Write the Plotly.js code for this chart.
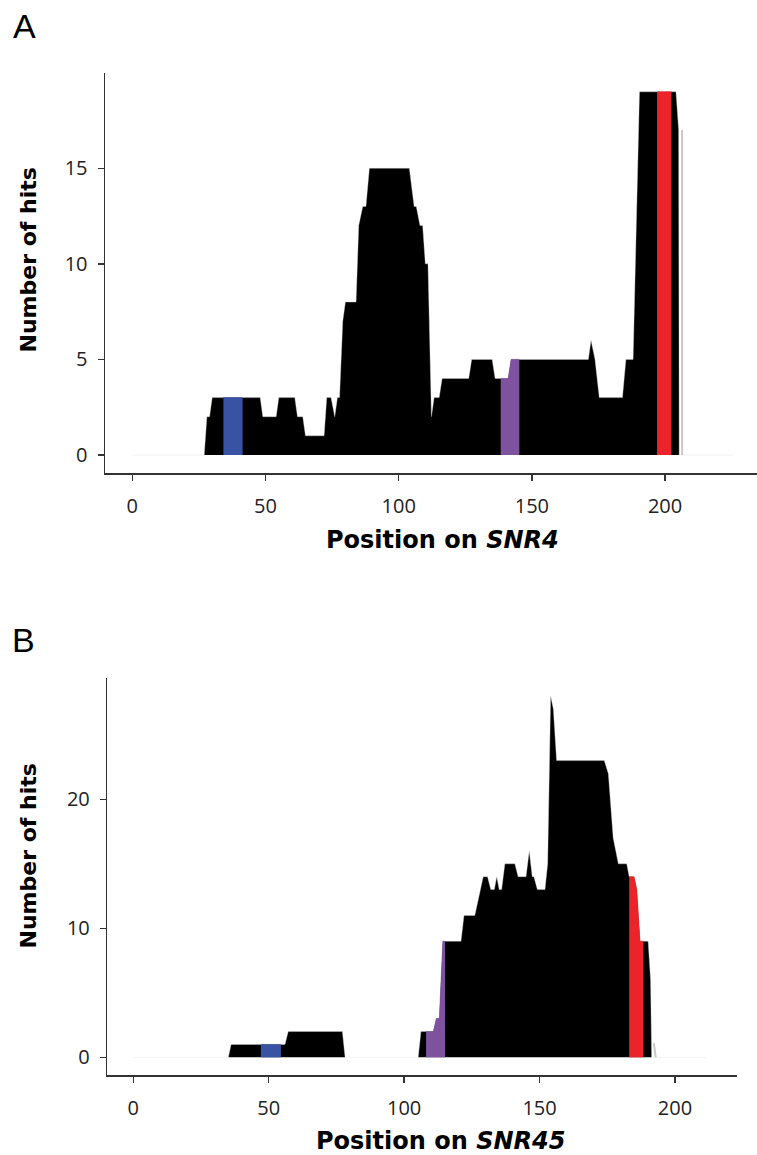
<!DOCTYPE html>
<html>
<head>
<meta charset="utf-8">
<script src="https://cdn.plot.ly/plotly-3.0.1.min.js"></script>
<style>html,body{margin:0;padding:0;background:#fff;}#chart{width:757px;height:1155px;}</style>
</head>
<body>
<div id="chart"></div>
<script>
// ---------- Panel A : SNR4 ----------
const snr4Pos  = [0, 27, 28, 29, 30, 48, 49, 54, 55, 61, 62, 64, 65, 72, 73, 74.6, 76, 77, 77.8, 79, 80, 84, 85, 86.5, 87.7, 89, 104, 105.8, 106.6, 108, 109, 110, 111, 112.3, 113.3, 115.2, 116.3, 126.3, 127.4, 135.1, 136.2, 141.1, 142.2, 171.2, 172.2, 173.7, 175.3, 184, 185.3, 188, 190.4, 204.1, 205.1, 205.3, 225.5];
const snr4Hits = [0, 0, 2, 2, 3, 3, 2, 2, 3, 3, 2, 2, 1, 1, 3, 3, 2, 3, 3, 7, 8, 8, 12, 13, 13, 15, 15, 13, 13, 12, 12, 10, 10, 2, 3, 3, 4, 4, 5, 5, 4, 4, 5, 5, 6, 5, 3, 3, 5, 5, 19, 19, 17, 0, 0];
const snr4BluePos = [34.2, 41.4];
const snr4BlueHits = [3, 3];
const snr4PurplePos = [138.3, 141.1, 142.2, 145.3];
const snr4PurpleHits = [4, 4, 5, 5];
const snr4RedPos = [197.0, 202.4];
const snr4RedHits = [19, 19];
const snr4TracePos = [206.4, 206.4];
const snr4TraceHits = [0, 17];
const snr4XTicks = [0, 50, 100, 150, 200];
const snr4YTicks = [0, 5, 10, 15];

// ---------- Panel B : SNR45 ----------
const snr45Pos  = [0, 35.1, 36.1, 56.0, 57.2, 77.2, 78.2, 105.2, 106.2, 110.8, 111.9, 113.0, 114.3, 121.0, 122.1, 126.1, 129.2, 130.8, 132.0, 133.3, 134.2, 135.1, 136.0, 137.2, 140.9, 142.1, 145.0, 146.2, 147.3, 147.9, 149.2, 152.0, 153.0, 154.1, 155.1, 156.3, 173.9, 175.4, 177.2, 179.1, 182.2, 183.1, 184.9, 185.9, 187.1, 190.1, 191.0, 191.4, 211.8];
const snr45Hits = [0, 0, 1, 1, 2, 2, 0, 0, 2, 2, 3, 3, 9, 9, 11, 11, 14, 14, 13, 13, 14, 13, 13, 15, 15, 14, 14, 16, 14, 14, 13, 13, 15, 28, 27, 23, 23, 22, 17, 15, 15, 14, 14, 13, 9, 9, 6, 0, 0];
const snr45BluePos = [47.1, 54.5];
const snr45BlueHits = [1, 1];
const snr45PurplePos = [108.1, 110.8, 111.9, 113.0, 114.3, 115.1];
const snr45PurpleHits = [2, 2, 3, 3, 9, 9];
const snr45RedPos = [183.1, 184.9, 185.9, 187.1, 188.3];
const snr45RedHits = [14, 14, 13, 9, 9];
const snr45TracePos = [192.2, 192.9];
const snr45TraceHits = [1.1, 0];
const snr45XTicks = [0, 50, 100, 150, 200];
const snr45YTicks = [0, 10, 20];

const BLUE = '#3953a4', PURPLE = '#7f52a0', RED = '#ec2328';

function area(x, y, color, xa, ya, lineColor, lw) {
  return {type: 'scatter', mode: 'lines', x: x, y: y, xaxis: xa, yaxis: ya,
    fill: 'tozeroy', fillcolor: color,
    line: {color: lineColor || color, width: lw === undefined ? 0.5 : lw, shape: 'linear'},
    hoverinfo: 'skip', showlegend: false};
}
function sliver(x, y, xa, ya) {
  return {type: 'scatter', mode: 'lines', x: x, y: y, xaxis: xa, yaxis: ya,
    line: {color: '#c8c8c8', width: 2}, hoverinfo: 'skip', showlegend: false};
}

const data = [
  area(snr4Pos, snr4Hits, '#000000', 'x', 'y', 'rgba(215,215,215,0.45)', 0.8),
  area(snr4BluePos, snr4BlueHits, BLUE, 'x', 'y'),
  area(snr4PurplePos, snr4PurpleHits, PURPLE, 'x', 'y'),
  area(snr4RedPos, snr4RedHits, RED, 'x', 'y'),
  sliver(snr4TracePos, snr4TraceHits, 'x', 'y'),
  area(snr45Pos, snr45Hits, '#000000', 'x2', 'y2', 'rgba(215,215,215,0.45)', 0.8),
  area(snr45BluePos, snr45BlueHits, BLUE, 'x2', 'y2'),
  area(snr45PurplePos, snr45PurpleHits, PURPLE, 'x2', 'y2'),
  area(snr45RedPos, snr45RedHits, RED, 'x2', 'y2'),
  sliver(snr45TracePos, snr45TraceHits, 'x2', 'y2')
];

const tickFont = {family: 'Open Sans, sans-serif', size: 20, color: '#222'};
function axis(extra) {
  return Object.assign({
    showline: true, linecolor: '#333', linewidth: 1.5,
    ticks: 'outside', ticklen: 6, tickwidth: 1.5, tickcolor: '#333',
    showgrid: false, zeroline: false, tickfont: tickFont, fixedrange: true,
    tickmode: 'array'
  }, extra);
}

const W = 757, H = 1155;
const px = v => v / W, py = v => 1 - v / H;
const titleFont = {family: 'DejaVu Sans, sans-serif', size: 24, color: '#000', weight: 'bold'};
const yTitleFont = {family: 'DejaVu Sans, sans-serif', size: 22, color: '#000', weight: 'bold'};
const letterFont = {family: 'Liberation Sans, Arial, sans-serif', size: 34, color: '#000'};

const layout = {
  width: W, height: H,
  margin: {l: 0, r: 0, t: 0, b: 0},
  paper_bgcolor: '#fff', plot_bgcolor: '#fff',
  showlegend: false,
  xaxis: axis({domain: [px(105), px(756.7)], range: [-10.25, 234.4], anchor: 'y', tickvals: snr4XTicks, ticklabelstandoff: 8}),
  yaxis: axis({domain: [py(473.3), py(72.7)], range: [-0.96, 20.0], anchor: 'x', tickvals: snr4YTicks, ticklabelstandoff: 6}),
  xaxis2: axis({domain: [px(107.3), px(736.7)], range: [-9.6, 222.8], anchor: 'y2', tickvals: snr45XTicks, ticklabelstandoff: 8}),
  yaxis2: axis({domain: [py(1075), py(678.3)], range: [-1.37, 29.38], anchor: 'x2', tickvals: snr45YTicks, ticklabelstandoff: 6}),
  annotations: [
    {text: 'A', xref: 'paper', yref: 'paper', x: px(24), y: py(26), xanchor: 'center', yanchor: 'middle', showarrow: false, font: letterFont},
    {text: 'B', xref: 'paper', yref: 'paper', x: px(23), y: py(640), xanchor: 'center', yanchor: 'middle', showarrow: false, font: letterFont},
    {text: 'Position on <i>SNR4</i>', xref: 'paper', yref: 'paper', x: px(442.5), y: py(540), xanchor: 'center', yanchor: 'middle', showarrow: false, font: titleFont},
    {text: 'Position on <i>SNR45</i>', xref: 'paper', yref: 'paper', x: px(441), y: py(1141), xanchor: 'center', yanchor: 'middle', showarrow: false, font: titleFont},
    {text: 'Number of hits', xref: 'paper', yref: 'paper', x: px(27.5), y: py(260), xanchor: 'center', yanchor: 'middle', textangle: -90, showarrow: false, font: yTitleFont},
    {text: 'Number of hits', xref: 'paper', yref: 'paper', x: px(27.5), y: py(856), xanchor: 'center', yanchor: 'middle', textangle: -90, showarrow: false, font: yTitleFont}
  ]
};

Plotly.newPlot('chart', data, layout, {staticPlot: true, displayModeBar: false});
</script>
</body>
</html>
